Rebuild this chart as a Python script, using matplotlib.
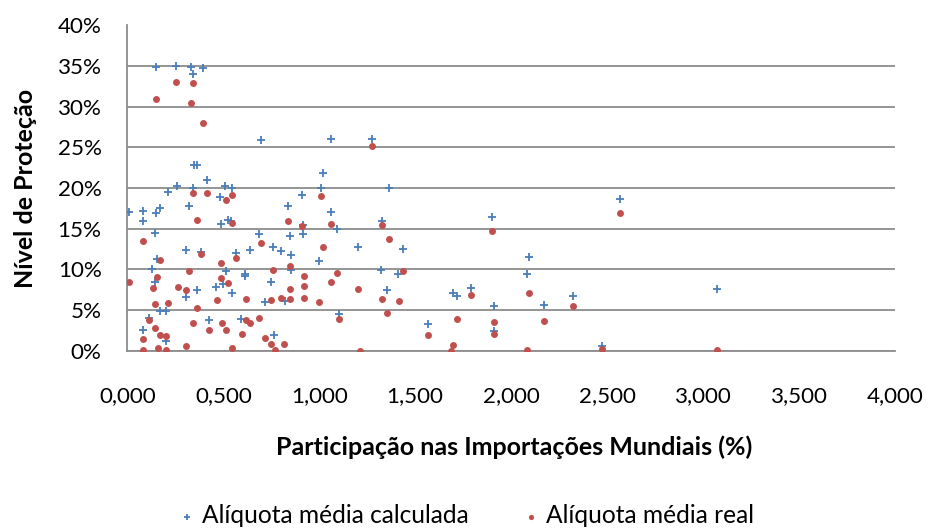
import matplotlib
matplotlib.use("Agg")
import matplotlib.pyplot as plt
from matplotlib.ticker import FuncFormatter, MultipleLocator

# Alíquota média calculada (x = participação %, y = nível de proteção %)
calc_x = [0.151, 0.252, 0.333, 0.396, 0.344, 0.698, 0.348, 0.365, 0.414, 0.261, 0.344, 0.511, 0.546,
          0.212, 0.483, 0.010, 0.080, 0.080, 0.151, 0.172, 0.322, 0.487, 0.525, 0.542, 0.143, 0.304,
          0.382, 0.156, 0.565, 0.638, 0.688, 0.758, 0.130, 0.143, 0.516, 0.615, 0.615, 0.747, 0.497,
          0.464, 0.363, 0.547, 0.304, 0.716, 0.170, 0.203, 0.113, 0.424, 0.594, 0.082, 0.203, 0.764,
          1.060, 1.274, 1.021, 1.009, 1.364, 0.910, 0.839, 1.060, 0.917, 1.091, 1.326, 0.848, 0.917,
          0.799, 0.851, 1.202, 1.435, 1.001, 0.851, 1.322, 1.412, 1.352, 0.820, 1.102, 1.567,
          1.900, 2.093, 2.081, 1.699, 1.718, 1.789, 1.909, 2.171, 2.324, 1.909, 2.475,
          2.567, 3.071]
calc_y = [34.85, 34.98, 34.9, 34.8, 34.0, 25.9, 22.9, 22.9, 20.95, 20.2, 20.0, 20.2, 20.0,
          19.5, 18.9, 17.07, 17.2, 15.96, 16.9, 17.5, 17.8, 15.56, 16.1, 16.0, 14.5, 12.4,
          12.1, 11.3, 12.0, 12.4, 14.4, 12.75, 10.0, 8.5, 9.8, 9.4, 9.2, 8.4, 8.2,
          7.8, 7.5, 7.1, 6.6, 5.97, 4.9, 4.9, 4.04, 3.8, 3.9, 2.6, 1.2, 1.97,
          26.09, 26.05, 21.85, 20.0, 20.0, 19.2, 17.8, 17.1, 15.5, 15.0, 16.0, 14.1, 14.4,
          12.3, 11.8, 12.8, 12.55, 11.0, 9.9, 9.9, 9.4, 7.5, 6.1, 4.5, 3.33,
          16.4, 11.5, 9.4, 7.08, 6.7, 7.7, 5.5, 5.68, 6.67, 2.39, 0.53,
          18.64, 7.53]

# Alíquota média real
real_x = [0.252, 0.344, 0.151, 0.333, 0.394,
          0.344, 0.415, 0.516, 0.547, 0.365, 0.547, 0.080, 0.698, 0.170, 0.386, 0.566, 0.487,
          0.323, 0.761, 0.153, 0.010, 0.132, 0.487, 0.526, 0.264, 0.304, 0.466, 0.617, 0.749,
          0.143, 0.214, 0.365, 0.111, 0.344, 0.495, 0.617, 0.638, 0.688, 0.143, 0.426, 0.516,
          0.170, 0.203, 0.598, 0.082, 0.719, 0.749, 0.082, 0.162, 0.203, 0.304, 0.547, 0.768,
          1.274, 1.009, 0.839, 0.910, 1.062, 1.326, 1.364,
          1.020, 0.848, 1.437, 1.091, 0.919, 0.919, 1.062, 0.848, 1.202, 0.799, 0.848, 0.919,
          1.001, 1.326, 1.416, 1.102, 1.353, 1.567, 0.818, 1.213,
          1.900, 2.093, 1.789, 2.324, 1.718, 1.909, 2.171, 1.909, 1.699, 1.687, 2.081, 2.475,
          2.567, 3.071]
real_y = [33.0, 32.9, 30.95, 30.5, 28.06,
          19.35, 19.35, 18.5, 19.2, 16.05, 15.7, 13.5, 13.25, 11.15, 11.85, 11.36, 10.74,
          9.8, 9.9, 9.1, 8.43, 7.7, 8.9, 8.3, 7.8, 7.5, 6.26, 6.4, 6.26,
          5.8, 5.85, 5.27, 3.8, 3.37, 3.4, 3.8, 3.4, 4.04, 2.8, 2.5, 2.5,
          1.94, 1.77, 2.0, 1.5, 1.57, 0.78, 0.1, 0.3, 0.1, 0.6, 0.3, 0.1,
          25.15, 19.05, 15.9, 15.3, 15.6, 15.5, 13.7,
          12.7, 10.4, 9.8, 9.55, 9.17, 8.0, 8.4, 7.6, 7.6, 6.46, 6.3, 6.46,
          5.97, 6.3, 6.13, 3.9, 4.65, 1.97, 0.86, 0.0,
          14.7, 7.04, 6.8, 5.5, 3.87, 3.5, 3.7, 2.1, 0.7, 0.0, 0.08, 0.25,
          16.95, 0.04]

series_names = ["Alíquota média calculada", "Alíquota média real"]
x_label = "Participação nas Importações Mundiais (%)"
y_label = "Nível de Proteção"

plt.rcParams['font.family'] = ['Lato', 'DejaVu Sans']

W, H = 936, 529
fig = plt.figure(figsize=(W / 100, H / 100), dpi=100)
renderer = fig.canvas.get_renderer()


def fit_size(s, target_px, weight='normal', base=16.0):
    t = fig.text(0, 0, s, fontsize=base, fontweight=weight)
    w = t.get_window_extent(renderer=renderer).width
    t.remove()
    return base * target_px / w


tick_fs = fit_size("0,000", 57)
title_fs = fit_size(x_label, 477, 'bold')
leg_fs = fit_size(series_names[0], 269)

# axes box (pixels from top-left): left 127.3, right 894.9, top 25.5, bottom 350.7
L, R, T, B = 127.3, 894.9, 25.5, 350.7
ax = fig.add_axes([L / W, 1 - B / H, (R - L) / W, (B - T) / H])

blue = "#4A7EBB"
red = "#C0504D"
grid_c = "#8C8C8C"

ax.scatter(calc_x, calc_y, marker='+', s=38, linewidths=1.3, color=blue,
           label=series_names[0], zorder=3)
ax.scatter(real_x, real_y, marker='o', s=25, linewidths=0, color=red,
           label=series_names[1], zorder=4)

ax.set_xlim(0, 4)
ax.set_ylim(0, 40)
ax.xaxis.set_major_locator(MultipleLocator(0.5))
ax.yaxis.set_major_locator(MultipleLocator(5))
ax.xaxis.set_major_formatter(FuncFormatter(lambda v, p: f"{v:.3f}".replace('.', ',')))
ax.yaxis.set_major_formatter(FuncFormatter(lambda v, p: f"{v:.0f}%"))

ax.grid(axis='y', color=grid_c, linewidth=1.3, zorder=0)
ax.set_axisbelow(True)
for s in ['top', 'right']:
    ax.spines[s].set_visible(False)
for s in ['left', 'bottom']:
    ax.spines[s].set_color(grid_c)
    ax.spines[s].set_linewidth(1.3)

# tick labels: y labels end ~25.6 px left of the axis; x label baselines at y=401.7 px
ax.tick_params(axis='both', length=0, labelsize=tick_fs, colors='black')
ax.tick_params(axis='y', pad=(L - 101.7) * 0.72)
ax.tick_params(axis='x', pad=(401.7 - B) * 0.72)
fig.canvas.draw()
for lbl in ax.get_xticklabels():
    lbl.set_verticalalignment('baseline')

# x title: centre x 514 px, baseline 455 px
ax.set_xlabel(x_label, fontsize=title_fs, fontweight='bold')
ax.xaxis.label.set_verticalalignment('baseline')
ax.xaxis.set_label_coords((514 - L) / (R - L), (B - 455) / (B - T))

# y title
ax.set_ylabel(y_label, fontsize=title_fs, fontweight='bold')
ax.yaxis.set_label_coords((37 - L) / (R - L), 0.5)

# legend
em = leg_fs * 100 / 72
hl = 0.6
htp = 15 / em - hl / 2
leg = fig.legend(loc='lower left', bbox_to_anchor=(0, 0), bbox_transform=fig.transFigure,
                 ncol=2, frameon=False, fontsize=leg_fs, borderpad=0, borderaxespad=0,
                 columnspacing=2.5, handletextpad=htp, handlelength=hl, markerscale=0.75)
fig.canvas.draw()
t1, t2 = leg.get_texts()
b1 = t1.get_window_extent(renderer=renderer)
b2 = t2.get_window_extent(renderer=renderer)
gap_now = b2.x0 - b1.x0
leg.columnspacing = 2.5 + ((546 - 202) - gap_now) / em
leg._legend_box = None
leg.remove()
leg = fig.legend(loc='lower left', bbox_to_anchor=(0, 0), bbox_transform=fig.transFigure,
                 ncol=2, frameon=False, fontsize=leg_fs, borderpad=0, borderaxespad=0,
                 columnspacing=2.5 + ((546 - 202) - gap_now) / em, handletextpad=htp,
                 handlelength=hl, markerscale=0.75)
fig.canvas.draw()
b1 = leg.get_texts()[0].get_window_extent(renderer=renderer)
dx = 202 - b1.x0
dy = (H - 527) - b1.y0
leg.set_bbox_to_anchor((dx / W, dy / H), transform=fig.transFigure)

fig.savefig("out.png", dpi=100)
